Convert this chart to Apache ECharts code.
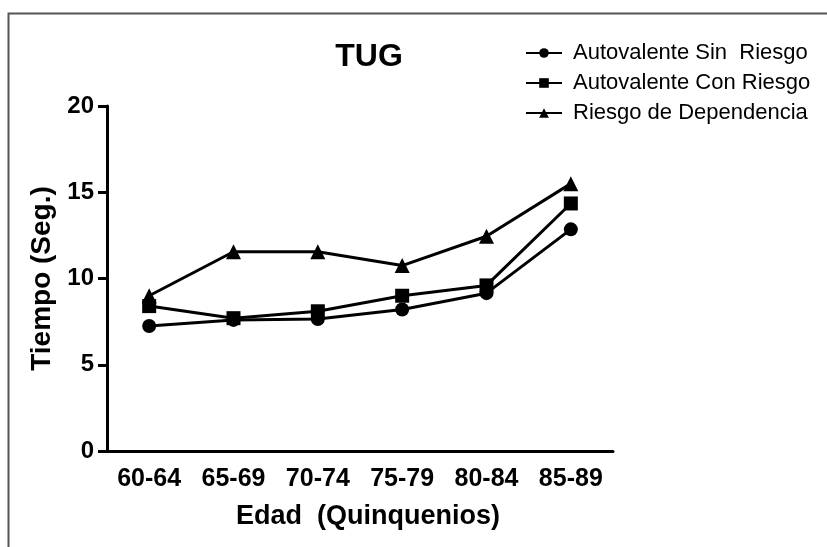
<!DOCTYPE html>
<html><head><meta charset="utf-8">
<script src="https://cdn.jsdelivr.net/npm/echarts@6/dist/echarts.min.js"></script>
<style>html,body{margin:0;padding:0;background:#fff}#c{width:827px;height:547px}</style>
</head><body><div id="c"></div>
<script>
const categories = ['60-64','65-69','70-74','75-79','80-84','85-89'];
const sinRiesgo = [7.25, 7.6, 7.65, 8.2, 9.15, 12.85];
const conRiesgo = [8.4, 7.7, 8.1, 9.0, 9.6, 14.35];
const dependencia = [9.0, 11.55, 11.55, 10.75, 12.45, 15.5];
const seriesNames = ['Autovalente Sin  Riesgo','Autovalente Con Riesgo','Riesgo de Dependencia'];
const yTicks = [0, 5, 10, 15, 20];

const F = '"Liberation Sans", Arial, sans-serif';
const chart = echarts.init(document.getElementById('c'));
function mk(name, data, symbol, size) {
  return {
    name, type: 'line', data, symbol, symbolSize: size,
    lineStyle: { color: '#000', width: 3 },
    itemStyle: { color: '#000' },
    animation: false
  };
}
chart.setOption({
  animation: false,
  backgroundColor: '#fff',
  graphic: [{
    type: 'rect', left: 6, top: 11,
    shape: { width: 900, height: 600 },
    style: { fill: 'none', stroke: '#555', lineWidth: 2 }
  }],
  title: {
    text: 'TUG', left: 364, top: 36, textAlign: 'center',
    textStyle: { fontFamily: F, fontWeight: 'bold', fontSize: 32, color: '#000' }
  },
  legend: {
    orient: 'vertical', left: 520, top: 37, itemGap: 8,
    itemWidth: 36, itemHeight: 12,
    textStyle: { fontFamily: F, fontSize: 22, color: '#000', padding: [0,0,0,6] },
    data: seriesNames
  },
  grid: { left: 107, right: 214, top: 106, bottom: 96 },
  xAxis: {
    type: 'category', data: categories, boundaryGap: true,
    name: 'Edad  (Quinquenios)', nameLocation: 'middle', nameGap: 52,
    nameTextStyle: { fontFamily: F, fontWeight: 'bold', fontSize: 27, color: '#000', padding: [0,0,0,16] },
    axisLine: { lineStyle: { color: '#000', width: 3 } },
    axisTick: { alignWithLabel: true, length: 9, lineStyle: { color: '#000', width: 3 } },
    axisLabel: { fontFamily: F, fontWeight: 'bold', fontSize: 25, color: '#000', margin: 16 }
  },
  yAxis: {
    type: 'value', min: yTicks[0], max: yTicks[yTicks.length-1], interval: 5,
    name: 'Tiempo (Seg.)', nameLocation: 'middle', nameGap: 51,
    nameTextStyle: { fontFamily: F, fontWeight: 'bold', fontSize: 28, color: '#000' },
    axisLine: { show: true, lineStyle: { color: '#000', width: 3 } },
    axisTick: { show: true, length: 9, lineStyle: { color: '#000', width: 3 } },
    axisLabel: { fontFamily: F, fontWeight: 'bold', fontSize: 24, color: '#000', margin: 13 },
    splitLine: { show: false }
  },
  series: [
    mk(seriesNames[0], sinRiesgo, 'circle', 14),
    mk(seriesNames[1], conRiesgo, 'rect', 14),
    mk(seriesNames[2], dependencia, 'triangle', 15)
  ]
});
</script></body></html>
